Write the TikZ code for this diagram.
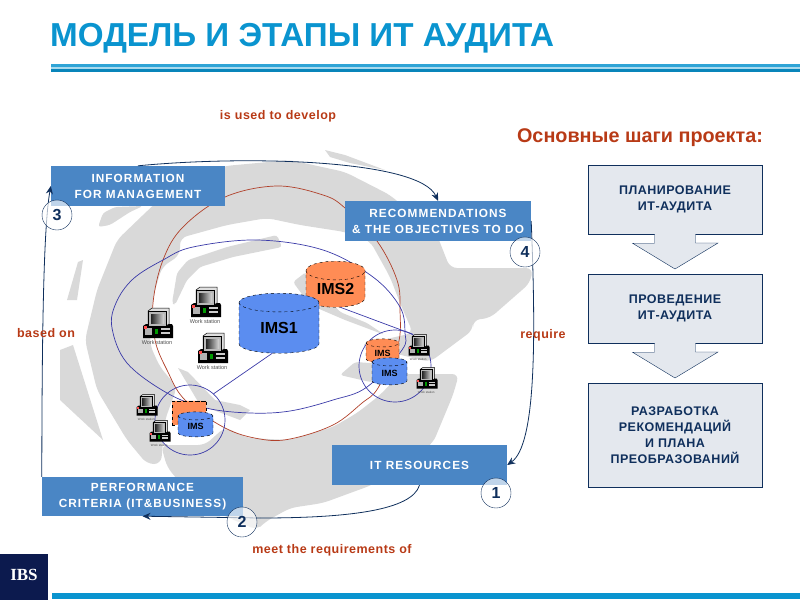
\documentclass[tikz,border=0pt]{standalone}
\usepackage{fontspec}
\usetikzlibrary{shapes.geometric,arrows.meta}
\setmainfont{Liberation Sans}
\newfontfamily\spfont[LetterSpace=9]{Liberation Sans}
\newfontfamily\lpfont[LetterSpace=4]{Liberation Sans}
\newfontfamily\logofont{Liberation Serif}

\definecolor{swirl}{HTML}{D9D9D9}
\definecolor{boxblue}{HTML}{4A86C5}
\definecolor{navy}{HTML}{0F2F5C}
\definecolor{redtxt}{HTML}{B83A16}
\definecolor{cyan}{HTML}{0A94CF}
\definecolor{stepfill}{HTML}{E4E8EE}
\definecolor{imsblue}{HTML}{5B8DF0}
\definecolor{imsorange}{HTML}{FF8C55}
\definecolor{loopblue}{HTML}{3A3AA8}
\definecolor{redloop}{HTML}{B0402A}
\definecolor{logoblue}{HTML}{0C1A4E}

\tikzset{
  infobox/.style={fill=boxblue, text=white, inner sep=0, align=center, execute at begin node=\vspace*{2pt}, font=\fontsize{11.8}{16}\selectfont\spfont\bfseries},
  stepbox/.style={draw=navy, fill=stepfill, inner sep=0, align=center, text=navy, execute at begin node=\vspace*{4pt}, font=\fontsize{12.5}{16}\selectfont\lpfont\bfseries},
  numnode/.style={draw=navy, shape=circle, fill=white, fill opacity=.65, text opacity=1, minimum size=30pt, inner sep=0, text=navy, font=\fontsize{16}{16}\selectfont\bfseries},
  redtext/.style={text=redtxt, font=\fontsize{12.5}{13}\selectfont\lpfont\bfseries},
  flow/.style={draw=navy, line width=.8pt},
  flowtip/.style={-{Stealth[length=8pt,width=7pt]}},
  ims/.style={draw, dashed, shape=cylinder, shape border rotate=90, aspect=.5, inner sep=0, font=\fontsize{#1}{#1}\selectfont\bfseries},
  zone/.style={draw=loopblue, line width=.7pt, shape=circle, inner sep=0}
}

% name, x, y, scale, label size
\newcommand{\wst}[5]{
\begin{scope}[shift={(#2,#3)}, scale=#4]
\fill[black] (-15,3) -- (-12,1) -- (14,1) -- (15,3) -- (15,15) -- (-15,15) -- cycle;
\fill[gray!60] (-13,5) rectangle (-6,12);
\fill[gray!40] (3,5) rectangle (12,7);
\fill[gray!40] (3,9) rectangle (12,11);
\fill[green!60!black] (-3,6) rectangle (0,11);
\fill[red!70] (-14,3) rectangle (-11,6);
\draw[black, fill=gray!25, line width=.5pt] (-10,-12) -- (-6,-15) -- (11,-15) -- (11,1) -- (8,3) -- (-10,3) -- cycle;
\draw[black, fill=gray!55, line width=.5pt] (-10,-12) rectangle (8,3);
\shade[left color=black!85, right color=gray!30] (-7,-9) rectangle (6,0);
\node[text=black!70, inner sep=0, font=\fontsize{#5}{#5}\selectfont] (#1) at (-1,20) {Work station};
\end{scope}
}

\begin{document}
\begin{tikzpicture}[x=1pt, y=-1pt]
\useasboundingbox (0,0) rectangle (800,600);

% background swirl
\fill[swirl, rounded corners=7pt] (85,340) -- (97,290) -- (117,240) -- (143,215) -- (180,180) -- (225,166) -- (290,160) -- (345,172) -- (390,195) -- (437,235) -- (450,268) -- (533,268) -- (530,283) -- (490,318) -- (473,320) -- (473,330) -- (430,362) -- (360,345) -- (413,333) -- (400,303) -- (390,277) -- (370,241) -- (345,232) -- (300,225) -- (267,218) -- (227,225) -- (180,238) -- (180,255) -- (162,267) -- (153,297) -- (150,345) -- (160,367) -- (177,387) -- (165,420) -- (161,464) -- (147,464) -- (127,440) -- (97,390) -- cycle;
\fill[swirl, rounded corners=7pt] (161,445) -- (167,467) -- (197,503) -- (227,517) -- (257,530) -- (265,522) -- (290,508) -- (323,503) -- (372,485) -- (433,443) -- (453,395) -- (459,374) -- (400,374) -- (380,395) -- (357,413) -- (333,427) -- (290,440) -- (247,438) -- (225,427) -- (205,445) -- cycle;
\fill[swirl, rounded corners=3pt] (172,303) -- (177,273) -- (188,260) -- (227,247) -- (277,235) -- (282,247) -- (233,257) -- (200,267) -- (187,280) -- (175,305) -- cycle;
\fill[swirl, rounded corners=3pt] (98,227) -- (103,213) -- (115,207) -- (143,206) -- (130,212) -- (110,225) -- cycle;
\fill[swirl] (67,300) -- (77,300) -- (83,260) -- (78,262) -- cycle;
\fill[swirl] (60,350) -- (73,345) -- (103,440) -- (60,400) -- cycle;
\fill[swirl] (178,368) -- (188,372) -- (215,400) -- (240,405) -- (250,410) -- (240,420) -- (200,405) -- cycle;
\fill[swirl, rounded corners=3pt] (293,282) -- (306,272) -- (340,312) -- (367,323) -- (385,335) -- (345,320) -- (310,305) -- cycle;
\fill[swirl, rounded corners=3pt] (340,375) -- (355,362) -- (400,365) -- (410,376) -- (370,382) -- cycle;
\fill[swirl] (325,150) -- (345,155) -- (385,170) -- (350,163) -- (330,157) -- cycle;

% big loops
\draw[redloop, line width=.7pt] plot[smooth cycle, tension=.6] coordinates {(225,197) (277,186) (323,195) (345,208) (377,241) (397,280) (400,310) (398,345) (378,388) (362,403) (333,425) (290,439) (260,439) (225,428) (185,400) (167,370) (155,340) (153,303) (163,260) (183,227)};
\draw[loopblue, line width=.7pt] plot[smooth cycle, tension=.6] coordinates {(112,328) (116,303) (133,279) (163,260) (193,247) (257,240) (323,250) (373,277) (400,307) (405,333) (402,350) (367,387) (333,400) (290,411) (250,413) (206,408) (167,393) (127,363)};

\node[zone, minimum size=72pt] (zoneright) at (395,366) {};
\node[zone, minimum size=70pt] (zoneleft) at (190,420) {};

\node[ims=16, fill=imsorange, minimum height=46pt, minimum width=59pt] (ims2) at (335.5,289) {IMS2};
\node[ims=16, fill=imsblue, minimum height=60pt, minimum width=80pt] (ims1) at (279,328) {IMS1};
\node[ims=9, fill=imsorange, minimum height=24pt, minimum width=33pt] (imsra) at (382.5,353) {IMS};
\node[ims=9, fill=imsblue, minimum height=27pt, minimum width=35pt] (imsrb) at (389.5,373.5) {IMS};
\node[ims=9, fill=imsorange, minimum height=24pt, minimum width=34pt] (imsla) at (189,413) {};
\node[ims=9, fill=imsblue, minimum height=25pt, minimum width=35pt] (imslb) at (195.5,426.5) {IMS};

\draw[loopblue, line width=.7pt] (ims1.255) to (zoneleft.48);
\draw[loopblue, line width=.7pt] (ims2.285) to (zoneright.61);

\wst{wsa}{158}{323}{1}{5.5}
\wst{wsb}{206}{302}{1}{5.5}
\wst{wsc}{213}{348}{1}{5.5}
\wst{wsd}{419}{345}{.7}{3}
\wst{wse}{427}{378}{.7}{3}
\wst{wsf}{147}{405}{.7}{3}
\wst{wsg}{160}{431}{.7}{3}

\node[infobox, minimum width=174pt, minimum height=40pt] (info) at (138,186) {INFORMATION\\FOR MANAGEMENT};
\node[infobox, minimum width=186pt, minimum height=40pt] (rec) at (438,221) {RECOMMENDATIONS\\\& THE OBJECTIVES TO DO};
\node[infobox, minimum width=201pt, minimum height=39pt] (crit) at (142.5,496.5) {PERFORMANCE\\CRITERIA (IT\&BUSINESS)};
\node[infobox, minimum width=175pt, minimum height=40pt] (res) at (419.5,465) {IT RESOURCES};

\coordinate (bendb) at (260,518);
\draw[flow, flowtip] (crit.north west) .. controls (42,350) and (43,230) .. (info.west);
\draw[flow, flowtip] (info.north) .. controls (250,155) and (420,160) .. (rec.north);
\draw[flow, flowtip] (rec.east) .. controls (536,340) and (536,445) .. (res.east);
\draw[flow] (res.south) .. controls (412,510) and (350,518) .. (bendb);
\draw[flow, flowtip] (bendb) -- (crit.south);

\node[numnode] (n1) at (496,493) {1};
\node[numnode] (n2) at (242,522) {2};
\node[numnode] (n3) at (57,215) {3};
\node[numnode] (n4) at (525,252) {4};

\node[redtext] (used) at (278,116) {is used to develop};
\node[redtext] (based) at (46,333) {based on};
\node[redtext] (need) at (543,335) {require};
\node[redtext] (meet) at (332,550) {meet the requirements of};

% steps
\node[stepbox, minimum width=174pt, minimum height=69pt] (plan) at (675,199.5) {ПЛАНИРОВАНИЕ\\ИТ-АУДИТА};
\node[stepbox, minimum width=174pt, minimum height=69pt] (run) at (675,308.5) {ПРОВЕДЕНИЕ\\ИТ-АУДИТА};
\node[stepbox, minimum width=174pt, minimum height=104pt] (make) at (675,435) {РАЗРАБОТКА\\РЕКОМЕНДАЦИЙ\\И ПЛАНА\\ПРЕОБРАЗОВАНИЙ};
\draw[draw=navy, fill=stepfill] (plan.south)++(-20.5,0) -- ++(0,9) -- ++(-22,0) -- (675,269) -- (718,243) -- ++(-22.5,0) -- ++(0,-9);
\draw[draw=navy, fill=stepfill] (run.south)++(-20.5,0) -- ++(0,9) -- ++(-22,0) -- (675,378) -- (718,352) -- ++(-22.5,0) -- ++(0,-9);

\node[text=redtxt, inner sep=0, font=\fontsize{19.8}{22}\selectfont\bfseries] (steps) at (640,138) {Основные шаги проекта:};

% title and bars
\node[text=cyan, anchor=base west, inner sep=0, font=\fontsize{33.2}{34}\selectfont\bfseries] (title) at (50,46) {МОДЕЛЬ И ЭТАПЫ ИТ АУДИТА};
\fill[cyan!85!white] (51,64) rectangle (800,67);
\fill[cyan!35!white] (51,67) rectangle (800,69);
\fill[cyan!90!black] (51,69) rectangle (800,72);
\fill[cyan] (52,593) rectangle (800,599);
\fill[logoblue] (0,554) rectangle (48,600);
\node[text=white, font=\fontsize{17}{17}\selectfont\logofont\bfseries] (logo) at (24,575) {IBS};
\end{tikzpicture}
\end{document}
